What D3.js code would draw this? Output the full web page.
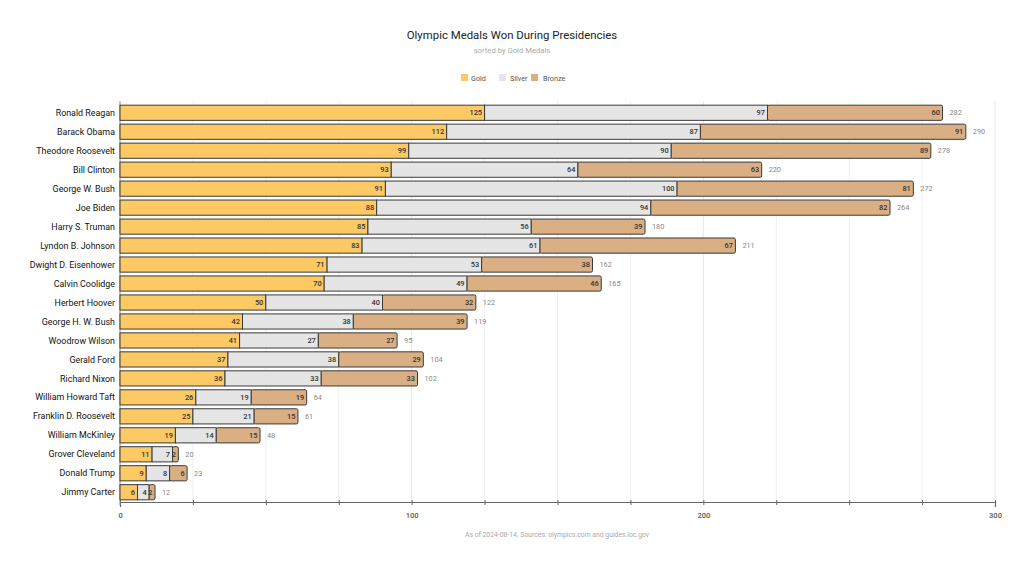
<!DOCTYPE html>
<html><head><meta charset="utf-8">
<script src="https://cdn.jsdelivr.net/npm/d3@7"></script>
<style>body{margin:0;background:#fff;}svg{display:block;font-family:Roboto,"Noto Sans",sans-serif;}</style>
</head><body><svg id="c" width="1024" height="565"></svg>
<script>
const presidents = ["Ronald Reagan","Barack Obama","Theodore Roosevelt","Bill Clinton","George W. Bush","Joe Biden","Harry S. Truman","Lyndon B. Johnson","Dwight D. Eisenhower","Calvin Coolidge","Herbert Hoover","George H. W. Bush","Woodrow Wilson","Gerald Ford","Richard Nixon","William Howard Taft","Franklin D. Roosevelt","William McKinley","Grover Cleveland","Donald Trump","Jimmy Carter"];
const gold   = [125,112,99,93,91,88,85,83,71,70,50,42,41,37,36,26,25,19,11,9,6];
const silver = [97,87,90,64,100,94,56,61,53,49,40,38,27,38,33,19,21,14,7,8,4];
const bronze = [60,91,89,63,81,82,39,67,38,46,32,39,27,29,33,19,15,15,2,6,2];
const seriesNames = ["Gold","Silver","Bronze"];
const colors = ["#FDC964","#E5E5E5","#DAAF83"];
const xTicks = [0,100,200,300];

const rows = presidents.map((p,i)=>({name:p, Gold:gold[i], Silver:silver[i], Bronze:bronze[i]}));
const svg = d3.select("#c");
const m = {left:120, right:995, top:101, bottom:502};
const x = d3.scaleLinear().domain([0,300]).range([m.left, m.right]);
const y = d3.scaleBand().domain(presidents).range([m.top, 504]).paddingInner(0.2).paddingOuter(0.22);

// title
svg.append("text").attr("x",512).attr("y",39).attr("text-anchor","middle").attr("font-size",11.4).attr("fill","#222").text("Olympic Medals Won During Presidencies");
svg.append("text").attr("x",512).attr("y",53).attr("text-anchor","middle").attr("font-size",7.7).attr("fill","#aaa").text("sorted by Gold Medals");

// legend
const lg = svg.append("g");
const legPos = [[461,471],[499,510],[531,543]];
seriesNames.forEach((s,i)=>{
  lg.append("rect").attr("x",legPos[i][0]).attr("y",74).attr("width",7).attr("height",7).attr("fill",colors[i]);
  lg.append("text").attr("x",legPos[i][1]).attr("y",80.5).attr("font-size",7.2).attr("fill","#555").text(s);
});

// grid
const gridTicks = d3.range(0,301,25);
svg.append("g").selectAll("line").data(gridTicks.filter(d=>d>0)).join("line")
  .attr("x1",d=>x(d)).attr("x2",d=>x(d)).attr("y1",m.top).attr("y2",m.bottom)
  .attr("stroke",d=>d%100===0?"#e6e6e6":"#efefef").attr("stroke-width",1);

// x axis
const xa = svg.append("g").attr("transform",`translate(0,${m.bottom})`)
  .call(d3.axisBottom(x).tickValues(gridTicks).tickSize(5).tickFormat(d=>xTicks.includes(d)?d:""));
xa.select(".domain").attr("stroke","#666").attr("stroke-width",1.2);
xa.selectAll(".tick line").attr("stroke","#666").attr("transform","translate(0,-2)");
xa.selectAll("text").attr("font-size",7.5).attr("fill","#555").attr("font-weight",500).attr("dy","1.1em").attr("font-family","Roboto,sans-serif");

// y axis line
svg.append("line").attr("x1",m.left).attr("x2",m.left).attr("y1",m.top).attr("y2",m.bottom+3).attr("stroke","#888");

// y labels
svg.append("g").selectAll("text").data(presidents).join("text")
  .attr("x",115).attr("y",d=>y(d)+y.bandwidth()/2).attr("dy","0.35em")
  .attr("text-anchor","end").attr("font-size",8.9).attr("fill","#111").text(d=>d);

// bars
const stack = d3.stack().keys(seriesNames)(rows);
stack.forEach((layer,li)=>{
  const g = svg.append("g");
  g.selectAll("rect").data(layer).join("rect")
    .attr("x",d=>x(d[0])).attr("y",d=>y(d.data.name)).attr("width",d=>x(d[1])-x(d[0])).attr("height",y.bandwidth())
    .attr("fill",colors[li]).attr("stroke","#3a3a3a").attr("stroke-width",1)
    .attr("rx",li===2?1.5:0);
  g.selectAll("text").data(layer).join("text")
    .attr("x",d=>x(d[1])-2.5).attr("y",d=>y(d.data.name)+y.bandwidth()/2).attr("dy","0.35em")
    .attr("text-anchor","end").attr("font-size",7.4).attr("font-weight",500).attr("fill","#333").text(d=>d[1]-d[0]);
});

// totals
svg.append("g").selectAll("text").data(rows).join("text")
  .attr("x",d=>x(d.Gold+d.Silver+d.Bronze)+7).attr("y",d=>y(d.name)+y.bandwidth()/2).attr("dy","0.35em")
  .attr("font-size",7.3).attr("fill","#888").text(d=>d.Gold+d.Silver+d.Bronze);

// footnote
svg.append("text").attr("x",465).attr("y",537).attr("font-size",6.8).attr("fill","#aaa").text("As of 2024-08-14. Sources: olympics.com and guides.loc.gov");
</script></body></html>
